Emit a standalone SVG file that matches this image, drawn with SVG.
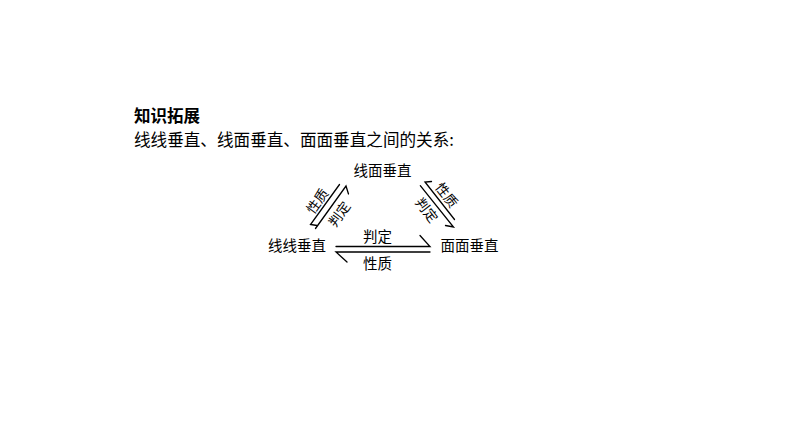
<svg xmlns="http://www.w3.org/2000/svg" width="794" height="447" viewBox="0 0 794 447">
<style>
text{font-family:"Noto Sans CJK SC","Noto Sans",sans-serif;fill:#000;dominant-baseline:central}
.h{font-size:16.5px;font-weight:bold}
.b{font-size:16.6px}
.n{font-size:14.5px;text-anchor:middle}
.l{font-size:13.5px;text-anchor:middle}
.c{fill:none;stroke:#000;stroke-width:1.3;stroke-linecap:round;stroke-linejoin:miter}
</style>
<rect width="794" height="447" fill="#fff"/>
<g id="heading">
<text class="h" x="134" y="114.5">知识拓展</text>
<text class="b" x="134" y="139">线线垂直、线面垂直、面面垂直之间的关系:</text>
</g>
<g id="node-xianmian"><text class="n" x="382.5" y="169.5">线面垂直</text></g>
<g id="node-xianxian"><text class="n" x="297" y="244.5">线线垂直</text></g>
<g id="node-mianmian"><text class="n" x="469.5" y="244.5">面面垂直</text></g>
<g id="connectors">
<polyline class="c" points="317,225.5 310.5,224.5 339.5,184.5"/>
<polyline class="c" points="315.5,228.5 346,186 348.5,194"/>
<text class="l" transform="translate(316.5,200.5) rotate(-54)">性质</text>
<text class="l" transform="translate(338.5,213.5) rotate(-54)">判定</text>
<polyline class="c" points="431.5,181.5 425,182 454.5,219.5"/>
<polyline class="c" points="420.3,185.7 453.5,227 445.5,225.5"/>
<text class="l" transform="translate(447.5,194.5) rotate(52)">性质</text>
<text class="l" transform="translate(427.5,209.5) rotate(52)">判定</text>
<polyline class="c" points="336,246.5 430,246.5 420,235.5"/>
<polyline class="c" points="347,262 336,252 430,252"/>
<text class="n" x="377.5" y="235">判定</text>
<text class="n" x="377.5" y="262.5">性质</text>
</g>
</svg>
